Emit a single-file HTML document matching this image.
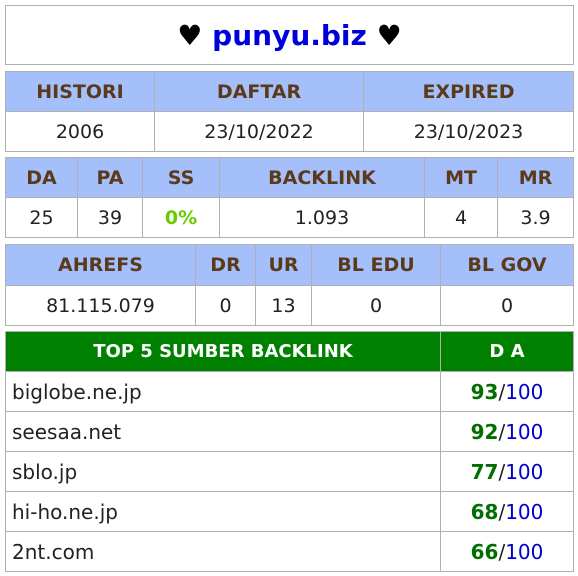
<!DOCTYPE html>
<html><head><meta charset="utf-8"><style>
body{margin:0;width:578px;height:576px;background:#fff;font-family:"DejaVu Sans","Liberation Sans",sans-serif;position:relative;overflow:hidden}
.c{position:absolute;box-sizing:border-box;border:1px solid #b0b0b0;display:flex;align-items:center;justify-content:center;font-size:19px;color:#222}
.h{background:#a4bffa;font-weight:bold;color:#5a3a1a}
.g{background:#008000;color:#fff;font-weight:bold;font-size:18px}
.l{justify-content:flex-start;padding-left:6px;font-size:20px}
.n{color:#006f00;font-weight:bold}.d{color:#0000cc}
</style></head><body>
<div class="c" style="left:5px;top:5px;width:569px;height:60px;font-size:28px;font-weight:bold;color:#000">♥&nbsp;<span style="color:#0000dd">punyu.biz</span>&nbsp;♥</div>

<div class="c h" style="left:5px;top:71px;width:150px;height:41px">HISTORI</div>
<div class="c h" style="left:154px;top:71px;width:210px;height:41px">DAFTAR</div>
<div class="c h" style="left:363px;top:71px;width:211px;height:41px">EXPIRED</div>
<div class="c" style="left:5px;top:111px;width:150px;height:41px">2006</div>
<div class="c" style="left:154px;top:111px;width:210px;height:41px">23/10/2022</div>
<div class="c" style="left:363px;top:111px;width:211px;height:41px">23/10/2023</div>

<div class="c h" style="left:5px;top:157px;width:73px;height:41px">DA</div>
<div class="c h" style="left:77px;top:157px;width:66px;height:41px">PA</div>
<div class="c h" style="left:142px;top:157px;width:78px;height:41px">SS</div>
<div class="c h" style="left:219px;top:157px;width:206px;height:41px">BACKLINK</div>
<div class="c h" style="left:424px;top:157px;width:74px;height:41px">MT</div>
<div class="c h" style="left:497px;top:157px;width:77px;height:41px">MR</div>
<div class="c" style="left:5px;top:197px;width:73px;height:41px">25</div>
<div class="c" style="left:77px;top:197px;width:66px;height:41px">39</div>
<div class="c" style="left:142px;top:197px;width:78px;height:41px;color:#66cc00;font-weight:bold">0%</div>
<div class="c" style="left:219px;top:197px;width:206px;height:41px">1.093</div>
<div class="c" style="left:424px;top:197px;width:74px;height:41px">4</div>
<div class="c" style="left:497px;top:197px;width:77px;height:41px">3.9</div>

<div class="c h" style="left:5px;top:244px;width:191px;height:42px">AHREFS</div>
<div class="c h" style="left:195px;top:244px;width:61px;height:42px">DR</div>
<div class="c h" style="left:255px;top:244px;width:57px;height:42px">UR</div>
<div class="c h" style="left:311px;top:244px;width:130px;height:42px">BL EDU</div>
<div class="c h" style="left:440px;top:244px;width:134px;height:42px">BL GOV</div>
<div class="c" style="left:5px;top:285px;width:191px;height:41px">81.115.079</div>
<div class="c" style="left:195px;top:285px;width:61px;height:41px">0</div>
<div class="c" style="left:255px;top:285px;width:57px;height:41px">13</div>
<div class="c" style="left:311px;top:285px;width:130px;height:41px">0</div>
<div class="c" style="left:440px;top:285px;width:134px;height:41px">0</div>

<div class="c g" style="left:5px;top:331px;width:436px;height:41px">TOP 5 SUMBER BACKLINK</div>
<div class="c g" style="left:440px;top:331px;width:134px;height:41px">D A</div>
<div id="rows"></div>
<script>
const sites=["biglobe.ne.jp","seesaa.net","sblo.jp","hi-ho.ne.jp","2nt.com"];
const scores=[93,92,77,68,66];
const r=document.getElementById('rows');
sites.forEach((s,i)=>{
  const t=371+i*40;
  const a=document.createElement('div');
  a.className='c l';a.style.cssText=`left:5px;top:${t}px;width:436px;height:41px`;a.textContent=s;
  
  
  const b=document.createElement('div');
  b.className='c';b.style.cssText=`left:440px;top:${t}px;width:134px;height:41px;font-size:20px`;
  b.innerHTML=`<span class="n">${scores[i]}</span>/<span class="d">100</span>`;
  
  
  r.appendChild(a);r.appendChild(b);
});
</script>
</body></html>
